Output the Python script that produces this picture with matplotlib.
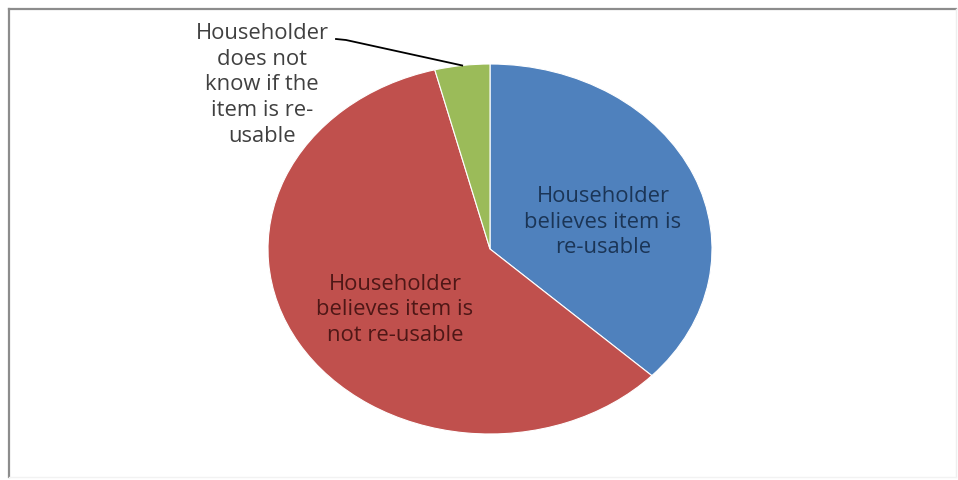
import matplotlib
matplotlib.use("Agg")
import matplotlib.pyplot as plt
from matplotlib.lines import Line2D
import numpy as np

categories = [
    "Householder\nbelieves item is\nre-usable",
    "Householder\nbelieves item is\nnot re-usable",
    "Householder\ndoes not\nknow if the\nitem is re-\nusable",
]
values = [37, 59, 4]
colors = ["#4F81BD", "#C0504D", "#9BBB59"]
text_colors = ["#1B3556", "#4E1716", "#404040"]

W, H = 958, 481
fig = plt.figure(figsize=(W / 100, H / 100), dpi=100)
fig.patch.set_facecolor("white")

# frame
fig.add_artist(Line2D([9 / W, 9 / W], [1 - 10 / H, 1 - 478 / H], color="#8c8c8c", lw=1.6))
fig.add_artist(Line2D([9 / W, 956 / W], [1 - 10 / H, 1 - 10 / H], color="#8c8c8c", lw=1.6))
fig.add_artist(Line2D([956 / W, 956 / W], [1 - 10 / H, 1 - 478 / H], color="#eeeeee", lw=1.0))
fig.add_artist(Line2D([9 / W, 956 / W], [1 - 478 / H, 1 - 478 / H], color="#f2f2f2", lw=1.0))

# pie axes covers ellipse bbox
cx, cy, rx, ry = 490, 250, 222, 185
ax = fig.add_axes([(cx - rx) / W, 1 - (cy + ry) / H, 2 * rx / W, 2 * ry / H])
wedges, _ = ax.pie(values, colors=colors, startangle=90, counterclock=False,
                   wedgeprops=dict(linewidth=0.8, edgecolor="white"))
ax.set_aspect("auto")
ax.set_xlim(-1, 1)
ax.set_ylim(-1, 1)
ax.axis("off")

font = "Open Sans"
fs = 15.8
ls = 1.3
ax.text(0.509, 0.151, categories[0], ha="center", va="center", fontsize=fs,
        color=text_colors[0], family=font, linespacing=ls)
ax.text(-0.428, -0.324, categories[1], ha="center", va="center", fontsize=fs,
        color=text_colors[1], family=font, linespacing=ls)
ax.text(-1.027, 0.892, categories[2], ha="center", va="center", fontsize=fs,
        color=text_colors[2], family=font, linespacing=ls, clip_on=False)

# leader line for green slice
w = wedges[2]
mid = np.deg2rad((w.theta1 + w.theta2) / 2)
px, py = np.cos(mid), np.sin(mid)
x0, y0 = (336 - cx) / rx, (cy - 40) / ry
x1, y1 = (346 - cx) / rx, (cy - 41) / ry
ax.plot([x0, x1, px], [y0, y1, py], color="black", lw=1.3, clip_on=False)

fig.savefig("out.png", dpi=100, facecolor="white")
